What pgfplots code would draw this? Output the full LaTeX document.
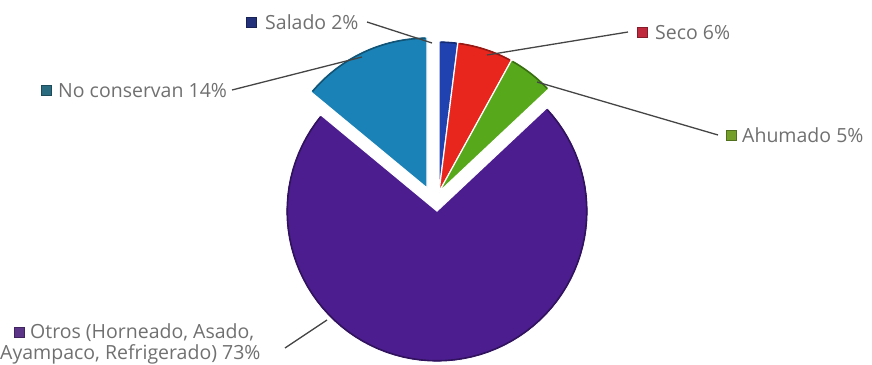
\documentclass[border=0pt]{standalone}
\usepackage{fontspec}
\setmainfont{Open Sans}
\usepackage{pgfplots}
\pgfplotsset{compat=1.18}
\definecolor{cSalado}{HTML}{2042B0}
\definecolor{cSeco}{HTML}{E8261E}
\definecolor{cAhumado}{HTML}{58A81C}
\definecolor{cOtros}{HTML}{4C1D8F}
\definecolor{cNoCons}{HTML}{1A82B6}
\definecolor{mSalado}{HTML}{23307A}
\definecolor{mSeco}{HTML}{C0283C}
\definecolor{mAhumado}{HTML}{74A02A}
\definecolor{mOtros}{HTML}{5C3488}
\definecolor{mNoCons}{HTML}{2A6B80}
\definecolor{txt}{HTML}{707070}
\definecolor{lead}{HTML}{454545}
% percentages (clockwise from 12 o'clock)
\def\pSalado{2}
\def\pSeco{6}
\def\pAhumado{5}
\def\pOtros{73}
\def\pNoCons{14}
\pgfmathsetmacro{\aA}{90}
\pgfmathsetmacro{\aB}{\aA-3.6*\pSalado}
\pgfmathsetmacro{\aC}{\aB-3.6*\pSeco}
\pgfmathsetmacro{\aD}{\aC-3.6*\pAhumado}
\pgfmathsetmacro{\aE}{\aD-3.6*\pOtros}
\pgfmathsetmacro{\aF}{\aE-3.6*\pNoCons}
% slice: cx, cy, r, a-low, a-high, colour
\newcommand{\slice}[6]{%
  \addplot[fill=#6, draw=white, line width=1.2bp, domain=#4:#5, samples=80, variable=\t]
    ({#1+#3*cos(\t)},{#2+#3*sin(\t)}) -- (axis cs:#1,#2) -- cycle;
  \addplot[draw=#6!65!black, line width=1.6bp, domain=#4+0.6:#5-0.6, samples=80, variable=\t]
    ({#1+(#3-1.2)*cos(\t)},{#2+(#3-1.2)*sin(\t)});
}
\begin{document}
\begin{tikzpicture}
\begin{axis}[x=1bp, y=1bp, xmin=0, xmax=872, ymin=0, ymax=364,
  hide axis, clip=false, anchor=origin, at={(0,0)}]
\path (axis cs:0,0) rectangle (axis cs:872,364);
% slices
\slice{439}{172}{151}{\aB}{\aA}{cSalado}
\slice{439}{172}{151}{\aC}{\aB}{cSeco}
\slice{439}{172}{151}{\aD}{\aC}{cAhumado}
\slice{437}{153}{151}{\aE}{\aD}{cOtros}
\slice{427}{176}{151}{\aF}{\aE}{cNoCons}
% leader lines
\addplot[lead, line width=1.3bp] coordinates {(367,342) (432,321)};
\addplot[lead, line width=1.3bp] coordinates {(232,274) (362,307)};
\addplot[lead, line width=1.3bp] coordinates {(628,332) (487,309)};
\addplot[lead, line width=1.3bp] coordinates {(718,229) (537,282)};
\addplot[lead, line width=1.3bp] coordinates {(285,16) (327,44)};
% legend squares
\addplot[only marks, mark=square*, mark size=5bp, mark options={fill=mSalado, draw=mSalado!70!black}] coordinates {(251,342)};
\addplot[only marks, mark=square*, mark size=5bp, mark options={fill=mNoCons, draw=mNoCons!70!black}] coordinates {(46,274)};
\addplot[only marks, mark=square*, mark size=5bp, mark options={fill=mSeco, draw=mSeco!70!black}] coordinates {(642,332)};
\addplot[only marks, mark=square*, mark size=5bp, mark options={fill=mAhumado, draw=mAhumado!70!black}] coordinates {(731,229)};
\addplot[only marks, mark=square*, mark size=5bp, mark options={fill=mOtros, draw=mOtros!70!black}] coordinates {(19,32)};
% labels
\begin{scope}[every node/.style={text=txt, inner sep=0pt, anchor=base west, font=\fontsize{19.5bp}{21bp}\selectfont}]
\node at (axis cs:265,335) {Salado 2\%};
\node at (axis cs:58,267) {No conservan 14\%};
\node at (axis cs:655,325) {Seco 6\%};
\node at (axis cs:742,222) {Ahumado 5\%};
\node at (axis cs:30,26) {Otros (Horneado, Asado,};
\node at (axis cs:0,5) {Ayampaco, Refrigerado) 73\%};
\end{scope}
\end{axis}
\end{tikzpicture}
\end{document}
